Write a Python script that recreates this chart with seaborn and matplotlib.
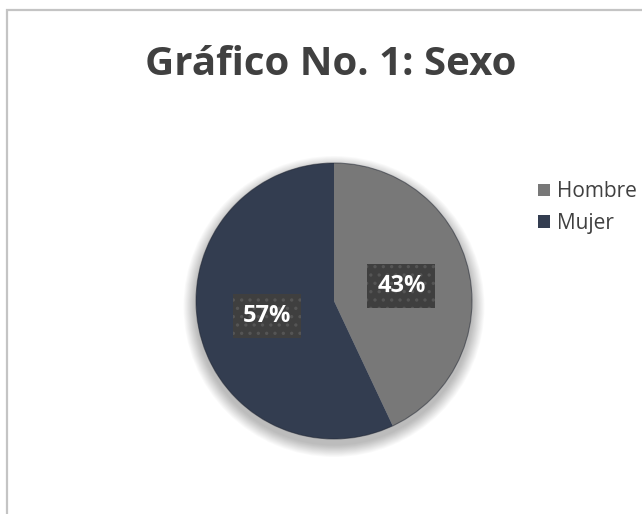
import matplotlib
matplotlib.use("Agg")
import matplotlib.pyplot as plt
from matplotlib.patches import Circle, Rectangle
import seaborn as sns

# Survey breakdown by sex
categories = ["Hombre", "Mujer"]
shares = [43, 57]
slice_colors = ["#787878", "#333d50"]
title_text = "Gráfico No. 1: Sexo"

sns.set_theme(style="white")
plt.rcParams["font.family"] = ["Open Sans", "DejaVu Sans"]
plt.rcParams["hatch.linewidth"] = 1.2

W, H = 642, 514
fig = plt.figure(figsize=(W / 100, H / 100), dpi=100)
fig.patch.set_facecolor("white")

# chart frame (open to the right and bottom)
fig.patches.append(Rectangle((7 / W, -0.1), 1.2, 1 - 10 / H + 0.1,
                             transform=fig.transFigure, fill=False,
                             edgecolor="#c4c4c4", linewidth=1.6))

# pie axes: centre (334, 301) px, radius 138 px
cx, cy, r = 334, 301, 138
lim = 1.2
ax = fig.add_axes([(cx - r * lim) / W, (H - cy - r * lim) / H,
                   2 * r * lim / W, 2 * r * lim / H])

# soft shadow underneath the pie
for i in range(14):
    ax.add_patch(Circle((0.0, -0.04), 1.0 + 0.0065 * (14 - i),
                        facecolor="black", edgecolor="none",
                        alpha=0.02, zorder=0))

wedges, texts, autotexts = ax.pie(
    shares, labels=None, colors=slice_colors, startangle=90,
    counterclock=False, radius=1.0, autopct="%1.0f%%", pctdistance=0.5,
    wedgeprops=dict(linewidth=0),
    textprops=dict(color="white", fontsize=17, fontweight="bold"))
# thin dark rim along the edge
ax.add_patch(Circle((0, 0), 1.0, facecolor="none", edgecolor="#1f2430",
                    linewidth=0.8, alpha=0.5, zorder=3))
for w in wedges:
    w.set_zorder(2)
for t in autotexts:
    t.set_zorder(5)
    t.set_bbox(dict(boxstyle="square,pad=0.42", facecolor="#3f3f3f",
                    edgecolor="#555555", linewidth=0, hatch=".."))

ax.set_xlim(-lim, lim)
ax.set_ylim(-lim, lim)
ax.set_aspect("equal")
ax.axis("off")

fig.text(331 / W, 1 - 75 / H, title_text, ha="center", va="baseline",
         fontsize=29, fontweight="bold", color="#404040")

leg = ax.legend(wedges, categories, loc="upper left",
                bbox_to_anchor=(530 / W, 1 - 173 / H),
                bbox_transform=fig.transFigure, frameon=False,
                fontsize=15, handlelength=0.55, handleheight=0.55,
                handletextpad=0.35, labelspacing=0.5, borderaxespad=0)
for t in leg.get_texts():
    t.set_color("#404040")

fig.savefig("out.png", dpi=100, facecolor="white")
